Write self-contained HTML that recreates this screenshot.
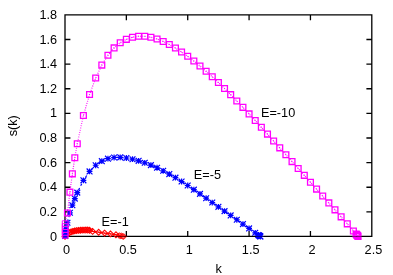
<!DOCTYPE html>
<html><head><meta charset="utf-8"><title>s(k)</title>
<style>
html,body{margin:0;padding:0;background:#fff;}
body{width:393px;height:275px;overflow:hidden;font-family:"Liberation Sans",sans-serif;}
svg{display:block;will-change:transform;}
svg .t{filter:grayscale(1);}
</style></head><body>
<svg width="393" height="275" viewBox="0 0 393 275">
<rect width="393" height="275" fill="#fff"/>
<path d="M65 14.9H371.8V236.4H65ZM65 211.88h5.4M371.8 211.88h-5.4M65 187.26h5.4M371.8 187.26h-5.4M65 162.63h5.4M371.8 162.63h-5.4M65 138.01h5.4M371.8 138.01h-5.4M65 113.39h5.4M371.8 113.39h-5.4M65 88.77h5.4M371.8 88.77h-5.4M65 64.14h5.4M371.8 64.14h-5.4M65 39.52h5.4M371.8 39.52h-5.4M126.36 236.4v-5.4M126.36 14.9v5.4M187.72 236.4v-5.4M187.72 14.9v5.4M249.08 236.4v-5.4M249.08 14.9v5.4M310.44 236.4v-5.4M310.44 14.9v5.4" fill="none" stroke="#000" stroke-width="1.3"/>
<g class="t" font-family="'Liberation Sans', sans-serif" font-size="12.7" fill="#000">
<text x="57.1" y="240.6" text-anchor="end">0</text>
<text x="57.1" y="215.98" text-anchor="end">0.2</text>
<text x="57.1" y="191.36" text-anchor="end">0.4</text>
<text x="57.1" y="166.73" text-anchor="end">0.6</text>
<text x="57.1" y="142.11" text-anchor="end">0.8</text>
<text x="57.1" y="117.49" text-anchor="end">1</text>
<text x="57.1" y="92.87" text-anchor="end">1.2</text>
<text x="57.1" y="68.24" text-anchor="end">1.4</text>
<text x="57.1" y="43.62" text-anchor="end">1.6</text>
<text x="57.1" y="19" text-anchor="end">1.8</text>
<text x="66.6" y="254" text-anchor="middle">0</text>
<text x="127.96" y="254" text-anchor="middle">0.5</text>
<text x="189.32" y="254" text-anchor="middle">1</text>
<text x="250.68" y="254" text-anchor="middle">1.5</text>
<text x="312.04" y="254" text-anchor="middle">2</text>
<text x="373.4" y="254" text-anchor="middle">2.5</text>
<text x="218.6" y="272.9" text-anchor="middle">k</text>
<text transform="translate(17.2 125.8) rotate(-90)" text-anchor="middle">s(k)</text>
<text x="101.6" y="226">E=-1</text>
<text x="193.8" y="179.3">E=-5</text>
<text x="261" y="117.4">E=-10</text>
</g>
<g fill="none" stroke="#f00" stroke-width="1.1">
<path d="M65 236.4 L65.6 235.9 L67.45 234.2 L69.3 232.76 L71.14 231.89 L72.98 231.33 L74.82 230.9 L76.66 230.57 L78.5 230.39 L80.34 230.25 L82.18 230.15 L84.02 230.08 L85.86 230.02 L87.7 230.03 L89.54 230.3 L92.61 231.4 L98.63 232.2 L104.64 233.1 L110.53 233.9 L115.93 234.7 L119.3 235.6 L120.42 235.85 L121.54 236.09 L122.65 236.3 L123.77 236.5" stroke-width="1.2"/>
<path d="M65 233.5l-2.9 2.9l2.9 2.9l2.9 -2.9zM65.6 233l-2.9 2.9l2.9 2.9l2.9 -2.9zM67.45 231.3l-2.9 2.9l2.9 2.9l2.9 -2.9zM69.3 229.86l-2.9 2.9l2.9 2.9l2.9 -2.9zM71.14 228.99l-2.9 2.9l2.9 2.9l2.9 -2.9zM72.98 228.43l-2.9 2.9l2.9 2.9l2.9 -2.9zM74.82 228l-2.9 2.9l2.9 2.9l2.9 -2.9zM76.66 227.67l-2.9 2.9l2.9 2.9l2.9 -2.9zM78.5 227.49l-2.9 2.9l2.9 2.9l2.9 -2.9zM80.34 227.35l-2.9 2.9l2.9 2.9l2.9 -2.9zM82.18 227.25l-2.9 2.9l2.9 2.9l2.9 -2.9zM84.02 227.18l-2.9 2.9l2.9 2.9l2.9 -2.9zM85.86 227.12l-2.9 2.9l2.9 2.9l2.9 -2.9zM87.7 227.13l-2.9 2.9l2.9 2.9l2.9 -2.9zM89.54 227.4l-2.9 2.9l2.9 2.9l2.9 -2.9zM92.61 228.5l-2.9 2.9l2.9 2.9l2.9 -2.9zM98.63 229.3l-2.9 2.9l2.9 2.9l2.9 -2.9zM104.64 230.2l-2.9 2.9l2.9 2.9l2.9 -2.9zM110.53 231l-2.9 2.9l2.9 2.9l2.9 -2.9zM115.93 231.8l-2.9 2.9l2.9 2.9l2.9 -2.9z"/>
<path d="M119.3 232.7l-2.9 2.9l2.9 2.9l2.9 -2.9zM120.42 232.95l-2.9 2.9l2.9 2.9l2.9 -2.9zM121.54 233.19l-2.9 2.9l2.9 2.9l2.9 -2.9zM122.65 233.4l-2.9 2.9l2.9 2.9l2.9 -2.9zM123.77 233.6l-2.9 2.9l2.9 2.9l2.9 -2.9z" stroke-width="0.9"/>
</g><g fill="#f00"><circle cx="65" cy="236.4" r="0.55"/><circle cx="65.6" cy="235.9" r="0.55"/><circle cx="67.45" cy="234.2" r="0.55"/><circle cx="69.3" cy="232.76" r="0.55"/><circle cx="71.14" cy="231.89" r="0.55"/><circle cx="72.98" cy="231.33" r="0.55"/><circle cx="74.82" cy="230.9" r="0.55"/><circle cx="76.66" cy="230.57" r="0.55"/><circle cx="78.5" cy="230.39" r="0.55"/><circle cx="80.34" cy="230.25" r="0.55"/><circle cx="82.18" cy="230.15" r="0.55"/><circle cx="84.02" cy="230.08" r="0.55"/><circle cx="85.86" cy="230.02" r="0.55"/><circle cx="87.7" cy="230.03" r="0.55"/><circle cx="89.54" cy="230.3" r="0.55"/><circle cx="92.61" cy="231.4" r="0.55"/><circle cx="98.63" cy="232.2" r="0.55"/><circle cx="104.64" cy="233.1" r="0.55"/><circle cx="110.53" cy="233.9" r="0.55"/><circle cx="115.93" cy="234.7" r="0.55"/><circle cx="119.3" cy="235.6" r="0.55"/><circle cx="120.42" cy="235.85" r="0.55"/><circle cx="121.54" cy="236.09" r="0.55"/><circle cx="122.65" cy="236.3" r="0.55"/><circle cx="123.77" cy="236.5" r="0.55"/></g>
<g fill="none" stroke="#00f" stroke-width="1.2">
<path d="M65.3 236 L65.7 232.4 L66.1 228.9 L67.45 222.76 L69.91 212.78 L72.36 205.22 L74.82 198.6 L77.27 192.62 L83.41 180.34 L89.54 171.42 L95.68 165.23 L101.82 161.17 L107.95 158.68 L114.09 157.48 L120.22 157.32 L126.36 157.98 L132.5 159.21 L138.63 160.83 L144.77 162.8 L150.9 165.11 L157.04 167.77 L163.18 170.78 L169.31 174.1 L175.45 177.69 L181.58 181.5 L187.72 185.5 L193.86 189.65 L199.99 193.89 L206.13 198.2 L212.26 202.53 L218.4 206.84 L224.54 211.14 L230.67 215.44 L236.81 219.75 L242.94 224.07 L249.08 228.42 L255.22 232.8 L258.28 235 L258.65 235.27 L259.02 235.53 L259.39 235.8 L259.76 236.07 L260.12 236.33 L260.49 236.5" stroke-dasharray="2.4 2.4" stroke-width="1.2"/>
<path d="M62.4 236h5.8M65.3 233.1v5.8M62.4 233.1l5.8 5.8M62.4 238.9l5.8 -5.8M62.8 232.4h5.8M65.7 229.5v5.8M62.8 229.5l5.8 5.8M62.8 235.3l5.8 -5.8M63.2 228.9h5.8M66.1 226v5.8M63.2 226l5.8 5.8M63.2 231.8l5.8 -5.8M64.55 222.76h5.8M67.45 219.86v5.8M64.55 219.86l5.8 5.8M64.55 225.66l5.8 -5.8M67.01 212.78h5.8M69.91 209.88v5.8M67.01 209.88l5.8 5.8M67.01 215.68l5.8 -5.8M69.46 205.22h5.8M72.36 202.32v5.8M69.46 202.32l5.8 5.8M69.46 208.12l5.8 -5.8M71.92 198.6h5.8M74.82 195.7v5.8M71.92 195.7l5.8 5.8M71.92 201.5l5.8 -5.8M74.37 192.62h5.8M77.27 189.72v5.8M74.37 189.72l5.8 5.8M74.37 195.52l5.8 -5.8M80.51 180.34h5.8M83.41 177.44v5.8M80.51 177.44l5.8 5.8M80.51 183.24l5.8 -5.8M86.64 171.42h5.8M89.54 168.52v5.8M86.64 168.52l5.8 5.8M86.64 174.32l5.8 -5.8M92.78 165.23h5.8M95.68 162.33v5.8M92.78 162.33l5.8 5.8M92.78 168.13l5.8 -5.8M98.92 161.17h5.8M101.82 158.27v5.8M98.92 158.27l5.8 5.8M98.92 164.07l5.8 -5.8M105.05 158.68h5.8M107.95 155.78v5.8M105.05 155.78l5.8 5.8M105.05 161.58l5.8 -5.8M111.19 157.48h5.8M114.09 154.58v5.8M111.19 154.58l5.8 5.8M111.19 160.38l5.8 -5.8M117.32 157.32h5.8M120.22 154.42v5.8M117.32 154.42l5.8 5.8M117.32 160.22l5.8 -5.8M123.46 157.98h5.8M126.36 155.08v5.8M123.46 155.08l5.8 5.8M123.46 160.88l5.8 -5.8M129.6 159.21h5.8M132.5 156.31v5.8M129.6 156.31l5.8 5.8M129.6 162.11l5.8 -5.8M135.73 160.83h5.8M138.63 157.93v5.8M135.73 157.93l5.8 5.8M135.73 163.73l5.8 -5.8M141.87 162.8h5.8M144.77 159.9v5.8M141.87 159.9l5.8 5.8M141.87 165.7l5.8 -5.8M148 165.11h5.8M150.9 162.21v5.8M148 162.21l5.8 5.8M148 168.01l5.8 -5.8M154.14 167.77h5.8M157.04 164.87v5.8M154.14 164.87l5.8 5.8M154.14 170.67l5.8 -5.8M160.28 170.78h5.8M163.18 167.88v5.8M160.28 167.88l5.8 5.8M160.28 173.68l5.8 -5.8M166.41 174.1h5.8M169.31 171.2v5.8M166.41 171.2l5.8 5.8M166.41 177l5.8 -5.8M172.55 177.69h5.8M175.45 174.79v5.8M172.55 174.79l5.8 5.8M172.55 180.59l5.8 -5.8M178.68 181.5h5.8M181.58 178.6v5.8M178.68 178.6l5.8 5.8M178.68 184.4l5.8 -5.8M184.82 185.5h5.8M187.72 182.6v5.8M184.82 182.6l5.8 5.8M184.82 188.4l5.8 -5.8M190.96 189.65h5.8M193.86 186.75v5.8M190.96 186.75l5.8 5.8M190.96 192.55l5.8 -5.8M197.09 193.89h5.8M199.99 190.99v5.8M197.09 190.99l5.8 5.8M197.09 196.79l5.8 -5.8M203.23 198.2h5.8M206.13 195.3v5.8M203.23 195.3l5.8 5.8M203.23 201.1l5.8 -5.8M209.36 202.53h5.8M212.26 199.63v5.8M209.36 199.63l5.8 5.8M209.36 205.43l5.8 -5.8M215.5 206.84h5.8M218.4 203.94v5.8M215.5 203.94l5.8 5.8M215.5 209.74l5.8 -5.8M221.64 211.14h5.8M224.54 208.24v5.8M221.64 208.24l5.8 5.8M221.64 214.04l5.8 -5.8M227.77 215.44h5.8M230.67 212.54v5.8M227.77 212.54l5.8 5.8M227.77 218.34l5.8 -5.8M233.91 219.75h5.8M236.81 216.85v5.8M233.91 216.85l5.8 5.8M233.91 222.65l5.8 -5.8M240.04 224.07h5.8M242.94 221.17v5.8M240.04 221.17l5.8 5.8M240.04 226.97l5.8 -5.8M246.18 228.42h5.8M249.08 225.52v5.8M246.18 225.52l5.8 5.8M246.18 231.32l5.8 -5.8M252.32 232.8h5.8M255.22 229.9v5.8M252.32 229.9l5.8 5.8M252.32 235.7l5.8 -5.8M255.38 235h5.8M258.28 232.1v5.8M255.38 232.1l5.8 5.8M255.38 237.9l5.8 -5.8M255.75 235.27h5.8M258.65 232.37v5.8M255.75 232.37l5.8 5.8M255.75 238.17l5.8 -5.8M256.12 235.53h5.8M259.02 232.63v5.8M256.12 232.63l5.8 5.8M256.12 238.43l5.8 -5.8M256.49 235.8h5.8M259.39 232.9v5.8M256.49 232.9l5.8 5.8M256.49 238.7l5.8 -5.8M256.86 236.07h5.8M259.76 233.17v5.8M256.86 233.17l5.8 5.8M256.86 238.97l5.8 -5.8M257.22 236.33h5.8M260.12 233.43v5.8M257.22 233.43l5.8 5.8M257.22 239.23l5.8 -5.8M257.59 236.5h5.8M260.49 233.6v5.8M257.59 233.6l5.8 5.8M257.59 239.4l5.8 -5.8"/>
</g>
<g fill="none" stroke="#f0f" stroke-width="1.3">
<path d="M65.2 223.7 L67.45 213.07 L69.91 192.17 L72.36 173.85 L74.82 157.79 L77.27 143.68 L83.41 115.44 L89.54 94.54 L95.68 78.07 L101.82 65.12 L107.95 55.22 L114.09 47.92 L120.22 42.78 L126.36 39.34 L132.5 37.21 L138.63 36.22 L144.77 36.26 L150.9 37.21 L157.04 38.98 L163.18 41.43 L169.31 44.47 L175.45 47.99 L181.58 51.95 L187.72 56.29 L193.86 60.99 L199.99 66 L206.13 71.29 L212.26 76.82 L218.4 82.57 L224.54 88.52 L230.67 94.65 L236.81 100.93 L242.94 107.36 L249.08 113.91 L255.22 120.57 L261.35 127.31 L267.49 134.11 L273.62 140.96 L279.76 147.84 L285.9 154.72 L292.03 161.6 L298.17 168.47 L304.3 175.34 L310.44 182.21 L316.58 189.1 L322.71 196 L328.85 202.92 L334.98 209.87 L341.12 216.85 L347.26 223.87 L353.39 230.93 L356.09 234.05 L356.34 234.34 L356.58 234.62 L356.83 234.91 L357.07 235.19 L357.32 235.48 L357.56 235.76 L357.81 236.04 L358.06 236.33" stroke-dasharray="0.9 1.4" stroke-width="1.2"/>
<path d="M62.3 232.4h5.8v5.8h-5.8zM62.3 229.5h5.8v5.8h-5.8zM62.3 226.6h5.8v5.8h-5.8zM62.3 223.7h5.8v5.8h-5.8zM62.3 220.8h5.8v5.8h-5.8z" stroke-width="0.95"/>
<path d="M64.55 210.17h5.8v5.8h-5.8zM67.01 189.27h5.8v5.8h-5.8zM69.46 170.95h5.8v5.8h-5.8zM71.92 154.89h5.8v5.8h-5.8zM74.37 140.78h5.8v5.8h-5.8zM80.51 112.54h5.8v5.8h-5.8zM86.64 91.64h5.8v5.8h-5.8zM92.78 75.17h5.8v5.8h-5.8zM98.92 62.22h5.8v5.8h-5.8zM105.05 52.32h5.8v5.8h-5.8zM111.19 45.02h5.8v5.8h-5.8zM117.32 39.88h5.8v5.8h-5.8zM123.46 36.44h5.8v5.8h-5.8zM129.6 34.31h5.8v5.8h-5.8zM135.73 33.32h5.8v5.8h-5.8zM141.87 33.36h5.8v5.8h-5.8zM148 34.31h5.8v5.8h-5.8zM154.14 36.08h5.8v5.8h-5.8zM160.28 38.53h5.8v5.8h-5.8zM166.41 41.57h5.8v5.8h-5.8zM172.55 45.09h5.8v5.8h-5.8zM178.68 49.05h5.8v5.8h-5.8zM184.82 53.39h5.8v5.8h-5.8zM190.96 58.09h5.8v5.8h-5.8zM197.09 63.1h5.8v5.8h-5.8zM203.23 68.39h5.8v5.8h-5.8zM209.36 73.92h5.8v5.8h-5.8zM215.5 79.67h5.8v5.8h-5.8zM221.64 85.62h5.8v5.8h-5.8zM227.77 91.75h5.8v5.8h-5.8zM233.91 98.03h5.8v5.8h-5.8zM240.04 104.46h5.8v5.8h-5.8zM246.18 111.01h5.8v5.8h-5.8zM252.32 117.67h5.8v5.8h-5.8zM258.45 124.41h5.8v5.8h-5.8zM264.59 131.21h5.8v5.8h-5.8zM270.72 138.06h5.8v5.8h-5.8zM276.86 144.94h5.8v5.8h-5.8zM283 151.82h5.8v5.8h-5.8zM289.13 158.7h5.8v5.8h-5.8zM295.27 165.57h5.8v5.8h-5.8zM301.4 172.44h5.8v5.8h-5.8zM307.54 179.31h5.8v5.8h-5.8zM313.68 186.2h5.8v5.8h-5.8zM319.81 193.1h5.8v5.8h-5.8zM325.95 200.02h5.8v5.8h-5.8zM332.08 206.97h5.8v5.8h-5.8zM338.22 213.95h5.8v5.8h-5.8zM344.36 220.97h5.8v5.8h-5.8zM350.49 228.03h5.8v5.8h-5.8zM353.19 231.15h5.8v5.8h-5.8zM353.44 231.44h5.8v5.8h-5.8zM353.68 231.72h5.8v5.8h-5.8zM353.93 232.01h5.8v5.8h-5.8zM354.17 232.29h5.8v5.8h-5.8zM354.42 232.58h5.8v5.8h-5.8zM354.66 232.86h5.8v5.8h-5.8zM354.91 233.14h5.8v5.8h-5.8zM355.16 233.43h5.8v5.8h-5.8z"/>
</g><g fill="#f0f"><circle cx="67.45" cy="213.07" r="0.55"/><circle cx="69.91" cy="192.17" r="0.55"/><circle cx="72.36" cy="173.85" r="0.55"/><circle cx="74.82" cy="157.79" r="0.55"/><circle cx="77.27" cy="143.68" r="0.55"/><circle cx="83.41" cy="115.44" r="0.55"/><circle cx="89.54" cy="94.54" r="0.55"/><circle cx="95.68" cy="78.07" r="0.55"/><circle cx="101.82" cy="65.12" r="0.55"/><circle cx="107.95" cy="55.22" r="0.55"/><circle cx="114.09" cy="47.92" r="0.55"/><circle cx="120.22" cy="42.78" r="0.55"/><circle cx="126.36" cy="39.34" r="0.55"/><circle cx="132.5" cy="37.21" r="0.55"/><circle cx="138.63" cy="36.22" r="0.55"/><circle cx="144.77" cy="36.26" r="0.55"/><circle cx="150.9" cy="37.21" r="0.55"/><circle cx="157.04" cy="38.98" r="0.55"/><circle cx="163.18" cy="41.43" r="0.55"/><circle cx="169.31" cy="44.47" r="0.55"/><circle cx="175.45" cy="47.99" r="0.55"/><circle cx="181.58" cy="51.95" r="0.55"/><circle cx="187.72" cy="56.29" r="0.55"/><circle cx="193.86" cy="60.99" r="0.55"/><circle cx="199.99" cy="66" r="0.55"/><circle cx="206.13" cy="71.29" r="0.55"/><circle cx="212.26" cy="76.82" r="0.55"/><circle cx="218.4" cy="82.57" r="0.55"/><circle cx="224.54" cy="88.52" r="0.55"/><circle cx="230.67" cy="94.65" r="0.55"/><circle cx="236.81" cy="100.93" r="0.55"/><circle cx="242.94" cy="107.36" r="0.55"/><circle cx="249.08" cy="113.91" r="0.55"/><circle cx="255.22" cy="120.57" r="0.55"/><circle cx="261.35" cy="127.31" r="0.55"/><circle cx="267.49" cy="134.11" r="0.55"/><circle cx="273.62" cy="140.96" r="0.55"/><circle cx="279.76" cy="147.84" r="0.55"/><circle cx="285.9" cy="154.72" r="0.55"/><circle cx="292.03" cy="161.6" r="0.55"/><circle cx="298.17" cy="168.47" r="0.55"/><circle cx="304.3" cy="175.34" r="0.55"/><circle cx="310.44" cy="182.21" r="0.55"/><circle cx="316.58" cy="189.1" r="0.55"/><circle cx="322.71" cy="196" r="0.55"/><circle cx="328.85" cy="202.92" r="0.55"/><circle cx="334.98" cy="209.87" r="0.55"/><circle cx="341.12" cy="216.85" r="0.55"/><circle cx="347.26" cy="223.87" r="0.55"/><circle cx="353.39" cy="230.93" r="0.55"/><circle cx="356.09" cy="234.05" r="0.55"/><circle cx="356.34" cy="234.34" r="0.55"/><circle cx="356.58" cy="234.62" r="0.55"/><circle cx="356.83" cy="234.91" r="0.55"/><circle cx="357.07" cy="235.19" r="0.55"/><circle cx="357.32" cy="235.48" r="0.55"/><circle cx="357.56" cy="235.76" r="0.55"/><circle cx="357.81" cy="236.04" r="0.55"/><circle cx="358.06" cy="236.33" r="0.55"/></g>
<path d="M116 236.5 H127.3 M255.5 236.5 H263.5 M352.5 236.5 H362" stroke="#000" stroke-width="1.1" opacity="0.45" fill="none"/>
</svg>
</body></html>
